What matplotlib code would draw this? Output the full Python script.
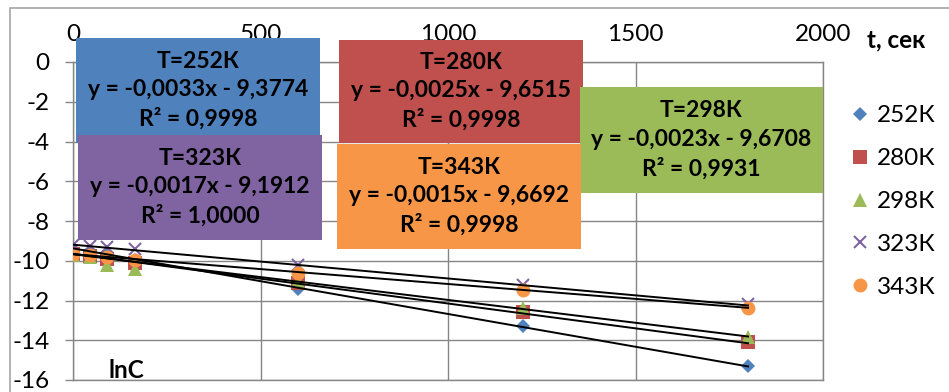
import numpy as np
import matplotlib
matplotlib.use('Agg')
import matplotlib.pyplot as plt
from matplotlib.patches import Rectangle

plt.rcParams['font.family'] = ['Lato', 'Open Sans', 'DejaVu Sans']
plt.rcParams['axes.unicode_minus'] = False

# time, s
t = [0, 45, 90, 165, 600, 1200, 1800]

# lnC for each temperature
lnC_252 = [-9.4, -9.5, -9.7, -9.95, -11.4, -13.3, -15.3]
lnC_280 = [-9.65, -9.75, -9.9, -10.1, -11.1, -12.6, -14.1]
lnC_298 = [-9.7, -9.8, -10.2, -10.4, -11.0, -12.4, -13.85]
lnC_323 = [-9.2, -9.25, -9.3, -9.4, -10.2, -11.2, -12.2]
lnC_343 = [-9.65, -9.7, -9.8, -9.95, -10.6, -11.45, -12.4]

labels = ['252К', '280К', '298К', '323К', '343К']
slopes = [-0.0033, -0.0025, -0.0023, -0.0017, -0.0015]
intercepts = [-9.3774, -9.6515, -9.6708, -9.1912, -9.6692]
r2 = ['0,9998', '0,9998', '0,9931', '1,0000', '0,9998']

series = [lnC_252, lnC_280, lnC_298, lnC_323, lnC_343]
colors = ['#4F81BD', '#C0504D', '#9BBB59', '#8064A2', '#F79646']
markers = ['D', 's', '^', 'x', 'o']
msizes = [7.5, 10, 10, 9, 10]

FS = 17.5

W, H = 949, 392
fig = plt.figure(figsize=(W/100, H/100), dpi=100)
ax = fig.add_axes([73/W, 1-380/H, 750/W, 318/H])

for i in range(len(series)):
	mew = 1.5 if markers[i] == 'x' else 0
	ax.plot(t, series[i], linestyle='none', marker=markers[i], markersize=msizes[i],
		color=colors[i], markeredgecolor=colors[i], markeredgewidth=mew, label=labels[i], zorder=3)

# trendlines
tt = np.array([t[0], t[-1]])
for i in range(len(series)):
	ax.plot(tt, slopes[i]*tt + intercepts[i], color='black', lw=1.4, zorder=4)

ax.set_xlim(0, 2000)
ax.set_ylim(-16, 0)
ax.set_xticks([0, 500, 1000, 1500, 2000])
ax.set_yticks(np.arange(-16, 1, 2))
ax.xaxis.tick_top()
ax.tick_params(axis='x', length=0, pad=12, labelsize=FS)
ax.tick_params(axis='y', length=6, width=1, color='#868686', pad=11, labelsize=FS)
ax.grid(True, color='#868686', lw=1)
for s in ax.spines.values():
	s.set_color('#868686')
	s.set_linewidth(1)

leg = fig.legend(loc='center left', bbox_to_anchor=(848/W, 1-201.5/H), frameon=False,
	fontsize=FS, handlelength=0.95, handletextpad=0.25, labelspacing=0.9,
	borderpad=0, borderaxespad=0)

# outer chart border
fig.add_artist(Rectangle((10/W, -0.1), 1.2, 1-8/H+0.1, transform=fig.transFigure,
	fill=False, edgecolor='#A6A6A6', lw=1.2))

# trendline label boxes: (x0, y0, x1, y1) in pixels
boxes = [(76, 38, 320, 143), (339, 40, 583, 143), (580, 87, 823, 193),
	(78, 135, 322, 240), (337, 144, 581, 249)]
for i in range(len(series)):
	x0, y0, x1, y1 = boxes[i]
	fig.add_artist(Rectangle((x0/W, 1-y1/H), (x1-x0)/W, (y1-y0)/H,
		transform=fig.transFigure, facecolor=colors[i], edgecolor='none', zorder=5))
	txt = 'T=%s\ny = %sx - %s\nR² = %s' % (labels[i],
		('%.4f' % slopes[i]).replace('.', ','),
		('%.4f' % abs(intercepts[i])).replace('.', ','), r2[i])
	fig.text((x0+x1)/2/W, 1-(y0+y1)/2/H, txt, ha='center', va='center',
		fontsize=16.5, fontweight='bold', linespacing=1.42, zorder=6)

fig.text(896/W, 1-40/H, 't, сек', ha='center', va='center', fontsize=FS, fontweight='bold')
fig.text(126/W, 1-370/H, 'lnC', ha='center', va='center', fontsize=FS, fontweight='bold')

fig.savefig('out.png', dpi=100, facecolor='white')
